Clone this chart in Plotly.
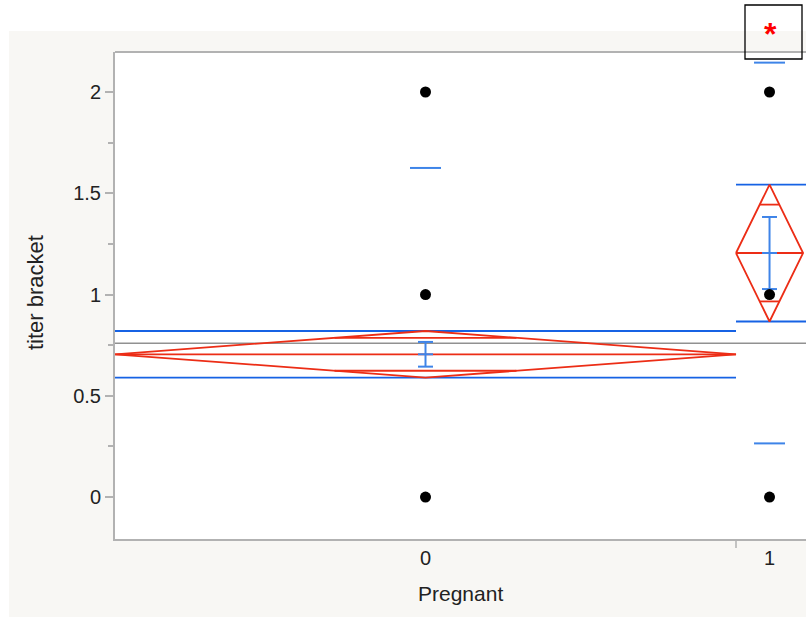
import numpy as np
import plotly.graph_objects as go

# ---------------- data ----------------
groups = ["0", "1"]
group_n = [250, 27]
group_mean = [0.705, 1.205]
group_sd = [0.92, 0.94]
group_se = [0.061, 0.178]
group_ci_half = [0.115, 0.338]
grand_mean = 0.759
point_values = [[0, 1, 2], [0, 1, 2]]
y_ticks = [0, 0.5, 1, 1.5, 2]
y_tick_text = ["0", "0.5", "1", "1.5", "2"]
x_title = "Pregnant"
y_title = "titer bracket"

# ---------------- layout geometry ----------------
W, H = 806, 618
L, T, B = 115, 52, 79
R = 0
pw = W - L - R
ph = H - T - B
YR = [-0.207, 2.1975]

edges = np.concatenate([[0], np.cumsum(group_n)])
centers = (edges[:-1] + edges[1:]) / 2.0
px_per_unit = (736 - 115) / group_n[0]
XR = [0, pw / px_per_unit]

def px_x(dpx):
    return dpx / px_per_unit

def paper_x(px):
    return (px - L) / pw

def paper_y(py):
    return (H - B - py) / ph

RED = "rgb(236,45,22)"
BLUE = "rgb(22,98,228)"
LBLUE = "rgb(62,132,232)"
GRAY = "rgb(145,145,145)"
AXC = "rgb(178,178,178)"
FONT = "Liberation Sans, Arial, Helvetica, sans-serif"

fig = go.Figure()

# grand mean line
fig.add_trace(go.Scatter(x=[XR[0], XR[1]], y=[grand_mean, grand_mean], mode="lines",
                         line=dict(color=GRAY, width=1.5), hoverinfo="skip"))

for i in range(len(groups)):
    xl, xr, xc = edges[i], edges[i + 1], centers[i]
    m, ci, sd, se = group_mean[i], group_ci_half[i], group_sd[i], group_se[i]
    xr_line = xr if i < len(groups) - 1 else XR[1]
    # CI lines (blue, across group)
    for yv in (m + ci, m - ci):
        fig.add_trace(go.Scatter(x=[xl, xr_line], y=[yv, yv], mode="lines",
                                 line=dict(color=BLUE, width=1.8), hoverinfo="skip"))
    # diamond
    fig.add_trace(go.Scatter(x=[xl, xc, xr, xc, xl], y=[m, m + ci, m, m - ci, m], mode="lines",
                             line=dict(color=RED, width=1.8), hoverinfo="skip"))
    # mean line
    fig.add_trace(go.Scatter(x=[xl, xr], y=[m, m], mode="lines",
                             line=dict(color=RED, width=1.8), hoverinfo="skip"))
    # overlap marks
    hw = (xr - xl) / 2.0
    k = 1 / np.sqrt(2)
    ow = (1 - k) * hw
    for s in (1, -1):
        fig.add_trace(go.Scatter(x=[xc - ow, xc + ow], y=[m + s * ci * k] * 2, mode="lines",
                                 line=dict(color=RED, width=1.8), hoverinfo="skip"))
    # std dev dashes
    dw = px_x(15.5)
    for yv in (m + sd, m - sd):
        fig.add_trace(go.Scatter(x=[xc - dw, xc + dw], y=[yv, yv], mode="lines",
                                 line=dict(color=LBLUE, width=2), hoverinfo="skip"))
    # error bar
    cw = px_x(7.5)
    fig.add_trace(go.Scatter(
        x=[xc, xc, None, xc - cw, xc + cw, None, xc - cw, xc + cw, None, xc - cw, xc + cw],
        y=[m - se, m + se, None, m + se, m + se, None, m - se, m - se, None, m, m],
        mode="lines", line=dict(color=LBLUE, width=2), hoverinfo="skip"))

# points
for i in range(len(groups)):
    fig.add_trace(go.Scatter(x=[centers[i]] * len(point_values[i]), y=point_values[i], mode="markers",
                             marker=dict(color="black", size=11), hoverinfo="skip"))

shapes = [
    dict(type="rect", xref="paper", yref="paper", x0=paper_x(9), x1=paper_x(W + 5),
         y0=paper_y(617), y1=paper_y(31), fillcolor="rgb(248,247,244)", line=dict(width=0), layer="below"),
    dict(type="rect", xref="paper", yref="paper", x0=0, x1=paper_x(W + 5), y0=0, y1=1,
         fillcolor="white", line=dict(width=0), layer="below"),
    # top border
    dict(type="line", xref="paper", yref="paper", x0=0, x1=paper_x(W + 5), y0=1, y1=1,
         line=dict(color=AXC, width=2)),
    # group separator tick
    dict(type="line", xref="x", yref="paper", x0=edges[1], x1=edges[1], y0=0, y1=paper_y(H - B + 9),
         line=dict(color=AXC, width=1.5)),
    # asterisk box
    dict(type="rect", xref="paper", yref="paper", x0=paper_x(745), x1=paper_x(802),
         y0=paper_y(59), y1=paper_y(5), line=dict(color="black", width=1.3)),
]

annotations = [
    dict(text="<b>*</b>", xref="paper", yref="paper", x=paper_x(770), y=paper_y(34), showarrow=False,
         font=dict(color="red", size=32, family=FONT), xanchor="center", yanchor="middle"),
    dict(text=x_title, xref="paper", yref="paper", x=paper_x(460), y=paper_y(593), showarrow=False,
         font=dict(color="#222", size=21, family=FONT), xanchor="center", yanchor="middle"),
    dict(text=y_title, xref="paper", yref="paper", x=paper_x(35), y=paper_y(293), showarrow=False,
         textangle=-90, font=dict(color="#222", size=22, family=FONT), xanchor="center", yanchor="middle"),
]

fig.update_layout(
    width=W, height=H,
    margin=dict(l=L, r=R, t=T, b=B, pad=0),
    paper_bgcolor="white", plot_bgcolor="white",
    showlegend=False,
    font=dict(family=FONT, size=20, color="#222"),
    shapes=shapes, annotations=annotations,
    xaxis=dict(range=XR, showgrid=False, zeroline=False, showline=True, linecolor=AXC, linewidth=2,
               tickmode="array", tickvals=list(centers), ticktext=groups,
               ticks="", fixedrange=True,
               tickfont=dict(size=20, family=FONT, color="#222")),
    yaxis=dict(range=YR, showgrid=False, zeroline=False, showline=True, linecolor=AXC, linewidth=2,
               tickmode="array", tickvals=y_ticks, ticktext=y_tick_text,
               ticks="outside", ticklen=8, tickwidth=1.5, tickcolor=AXC, fixedrange=True,
               minor=dict(dtick=0.25, tick0=0, ticks="outside", ticklen=5, tickwidth=1.5, tickcolor=AXC),
               tickfont=dict(size=20, family=FONT, color="#222")),
)

fig.write_html("out.html")
